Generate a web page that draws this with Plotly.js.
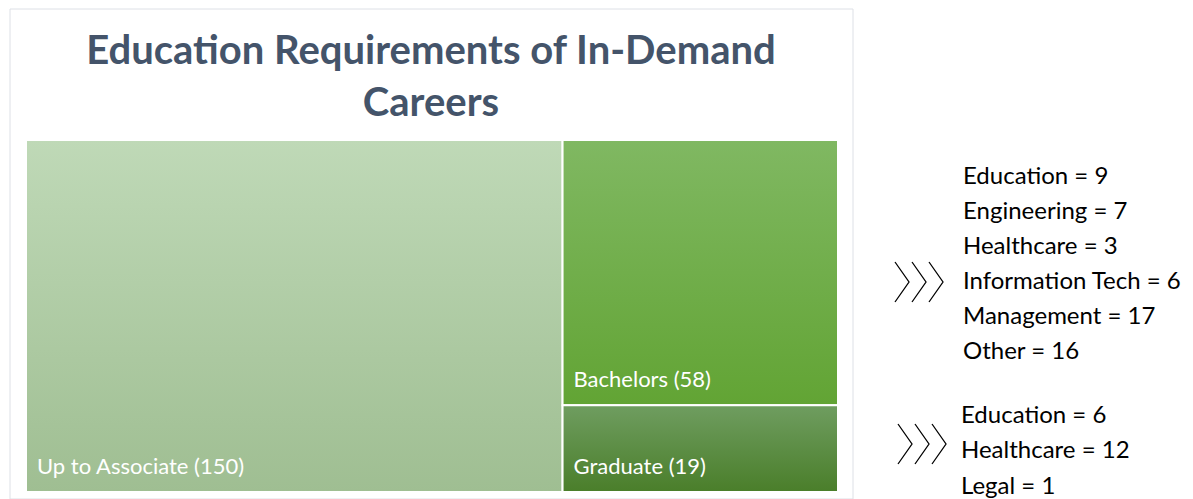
<!DOCTYPE html>
<html>
<head>
<meta charset="utf-8">
<script src="https://cdn.plot.ly/plotly-3.0.1.min.js"></script>
<style>html,body{margin:0;padding:0;background:#fff;}#chart{width:1193px;height:499px;}</style>
</head>
<body>
<div id="chart"></div>
<script>
// ---- data ----
const levels = ["Up to Associate", "Bachelors", "Graduate"];
const levelCounts = [150, 58, 19];
const bachelorsFields = ["Education", "Engineering", "Healthcare", "Information Tech", "Management", "Other"];
const bachelorsCounts = [9, 7, 3, 6, 17, 16];
const graduateFields = ["Education", "Healthcare", "Legal"];
const graduateCounts = [6, 12, 1];
const chartTitle = "Education Requirements of In-Demand<br>Careers";

// ---- styling ----
const midColors = ["#afcba4", "#6fae48", "#5b8d44"];
const gradStops = [["#bfd9b7", "#9fbe92"], ["#80b862", "#62a434"], ["#6f9d60", "#4a7e2a"]];

const W = 1193, H = 499;
const px = x => x / W;
const py = y => 1 - y / H;

function chevrons(x0, yTop, yBot) {
  const shapes = [];
  const yMid = (yTop + yBot) / 2;
  for (let i = 0; i < 3; i++) {
    const xa = x0 + i * 17, xb = xa + 14;
    shapes.push({
      type: "path", xref: "paper", yref: "paper",
      path: `M ${px(xa)} ${py(yTop)} L ${px(xb)} ${py(yMid)} L ${px(xa)} ${py(yBot)}`,
      line: {color: "#000", width: 1.3}
    });
  }
  return shapes;
}

const sideFont = {family: "Lato", size: 24, color: "#000"};
const annotations = [];
bachelorsFields.forEach((f, i) => {
  annotations.push({xref: "paper", yref: "paper", x: px(961), y: py(174 + 35 * i), xanchor: "left", yanchor: "middle",
    text: f + " = " + bachelorsCounts[i], showarrow: false, font: sideFont});
});
graduateFields.forEach((f, i) => {
  annotations.push({xref: "paper", yref: "paper", x: px(959), y: py(413 + 35.5 * i), xanchor: "left", yanchor: "middle",
    text: f + " = " + graduateCounts[i], showarrow: false, font: sideFont});
});

const trace = {
  type: "treemap",
  labels: levels,
  parents: levels.map(() => ""),
  values: levelCounts,
  sort: true,
  marker: {colors: midColors, line: {color: "#ffffff", width: 2}, pad: {t: 0, l: 0, r: 0, b: 0}},
  tiling: {packing: "squarify", pad: 0},
  pathbar: {visible: false},
  texttemplate: "%{label} (%{value})",
  textposition: "bottom left",
  textfont: {family: "Lato", size: 22, color: "#ffffff"},
  hoverinfo: "none",
  domain: {x: [px(26), px(838)], y: [py(492), py(140)]}
};

const layout = {
  width: W, height: H,
  margin: {l: 0, r: 0, t: 0, b: 0},
  paper_bgcolor: "#ffffff",
  title: {text: chartTitle, xref: "paper", yref: "paper", x: px(431), xanchor: "center", y: py(64), yanchor: "top",
    font: {family: "Lato", size: 40, color: "#44546a", weight: "bold"}},
  shapes: [
    {type: "rect", xref: "paper", yref: "paper", x0: px(10), x1: px(853), y0: py(499), y1: py(9),
      line: {color: "#dde0e6", width: 1}, fillcolor: "rgba(0,0,0,0)", layer: "below"}
  ].concat(chevrons(895, 262, 302), chevrons(898, 424, 464)),
  annotations: annotations,
  showlegend: false
};

Plotly.newPlot("chart", [trace], layout, {displayModeBar: false, staticPlot: true}).then(gd => {
  const svg = gd.querySelector(".main-svg");
  let defs = svg.querySelector("defs");
  const ns = "http://www.w3.org/2000/svg";
  gradStops.forEach((st, i) => {
    const g = document.createElementNS(ns, "linearGradient");
    g.setAttribute("id", "tmgrad" + i);
    g.setAttribute("x1", "0"); g.setAttribute("y1", "0"); g.setAttribute("x2", "0"); g.setAttribute("y2", "1");
    [[0, st[0]], [1, st[1]]].forEach(([o, c]) => {
      const s = document.createElementNS(ns, "stop");
      s.setAttribute("offset", o); s.setAttribute("stop-color", c);
      g.appendChild(s);
    });
    defs.appendChild(g);
  });
  const hexToRgb = h => [1, 3, 5].map(k => parseInt(h.slice(k, k + 2), 16));
  const targets = midColors.map(hexToRgb);
  gd.querySelectorAll(".treemaplayer path.surface").forEach(el => {
    const m = (el.style.fill || "").match(/\d+/g);
    if (!m) return;
    const rgb = m.slice(0, 3).map(Number);
    targets.forEach((t, i) => {
      if (t[0] === rgb[0] && t[1] === rgb[1] && t[2] === rgb[2]) el.style.fill = "url(#tmgrad" + i + ")";
    });
  });
  // inset the labels a little from the tile corner, as in the reference
  gd.querySelectorAll(".treemaplayer g.slicetext text").forEach(t => {
    const tr = t.getAttribute("transform") || "";
    t.setAttribute("transform", "translate(8,-10) " + tr);
  });
});
</script>
</body>
</html>
